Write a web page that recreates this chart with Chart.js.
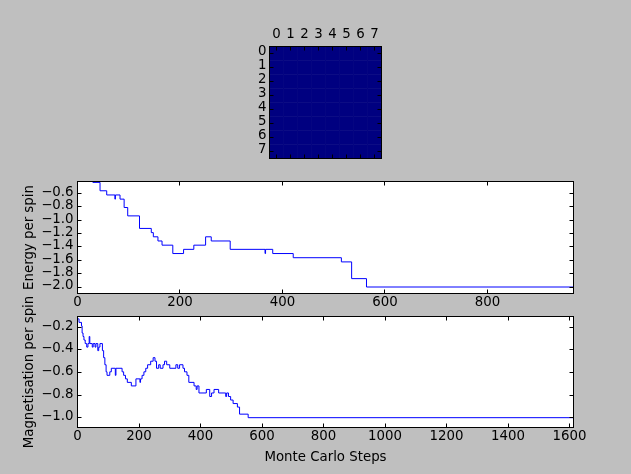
<!DOCTYPE html>
<html><head><meta charset="utf-8">
<script src="https://cdn.jsdelivr.net/npm/chart.js@4.4.0/dist/chart.umd.min.js"></script>
<style>
html,body{margin:0;padding:0;background:#bfbfbf;width:631px;height:474px;overflow:hidden}
canvas{position:absolute;left:0;top:0}
</style></head><body>
<canvas id="cLattice" width="631" height="474"></canvas>
<canvas id="cEnergy" width="631" height="474"></canvas>
<canvas id="cMag" width="631" height="474"></canvas>
<script>
// ---- data ----
const latticeRows = [0, 1, 2, 3, 4, 5, 6, 7];
const latticeCols = ['0', '1', '2', '3', '4', '5', '6', '7'];
const spins = [
  [-1, -1, -1, -1, -1, -1, -1, -1],
  [-1, -1, -1, -1, -1, -1, -1, -1],
  [-1, -1, -1, -1, -1, -1, -1, -1],
  [-1, -1, -1, -1, -1, -1, -1, -1],
  [-1, -1, -1, -1, -1, -1, -1, -1],
  [-1, -1, -1, -1, -1, -1, -1, -1],
  [-1, -1, -1, -1, -1, -1, -1, -1],
  [-1, -1, -1, -1, -1, -1, -1, -1]
];
const latticeTicks = [0, 1, 2, 3, 4, 5, 6, 7];

const energySteps  = [0, 30, 44, 57, 73, 74, 83, 91, 98, 121, 144, 148, 157, 165, 186, 207, 227, 250, 261, 298, 366, 367, 381, 421, 515, 535, 564, 968];
const energyValues = [-0.375, -0.4375, -0.5625, -0.625, -0.6875, -0.625, -0.6875, -0.8125, -0.9375, -1.125, -1.1875, -1.25, -1.3125, -1.375, -1.5, -1.4375, -1.375, -1.25, -1.3125, -1.4375, -1.5, -1.4375, -1.5, -1.5625, -1.625, -1.875, -2.0, -2.0];
const energyXTicks = [0, 200, 400, 600, 800];
const energyYTicks = [-2.0, -1.8, -1.6, -1.4, -1.2, -1.0, -0.8, -0.6];

const magSteps  = [0, 5, 13, 15, 18, 21, 25, 30, 34, 38, 40, 48, 51, 57, 60, 66, 69, 73, 81, 85, 89, 93, 96, 105, 110, 123, 125, 145, 150, 156, 162, 175, 190, 203, 205, 210, 216, 222, 228, 238, 246, 252, 257, 264, 269, 278, 283, 290, 300, 320, 326, 332, 343, 348, 356, 362, 379, 386, 389, 395, 419, 430, 436, 444, 459, 482, 485, 491, 498, 506, 520, 527, 555, 1613];
const magValues = [-0.125, -0.15625, -0.1875, -0.25, -0.28125, -0.3125, -0.34375, -0.375, -0.34375, -0.28125, -0.34375, -0.375, -0.34375, -0.375, -0.34375, -0.40625, -0.375, -0.34375, -0.40625, -0.46875, -0.53125, -0.59375, -0.625, -0.59375, -0.5625, -0.625, -0.5625, -0.59375, -0.625, -0.65625, -0.6875, -0.71875, -0.65625, -0.6875, -0.65625, -0.625, -0.59375, -0.5625, -0.53125, -0.5, -0.46875, -0.5, -0.5625, -0.53125, -0.5625, -0.53125, -0.5, -0.53125, -0.5625, -0.53125, -0.5625, -0.53125, -0.5625, -0.59375, -0.625, -0.6875, -0.71875, -0.75, -0.71875, -0.78125, -0.75, -0.8125, -0.78125, -0.75, -0.78125, -0.8125, -0.78125, -0.8125, -0.84375, -0.875, -0.90625, -0.96875, -1.0, -1.0];
const magXTicks = [0, 200, 400, 600, 800, 1000, 1200, 1400, 1600];
const magYTicks = [-1.0, -0.8, -0.6, -0.4, -0.2];

// ---- style helpers ----
Chart.defaults.font.family = 'DejaVu Sans';
Chart.defaults.font.size = 13.33;
Chart.defaults.color = '#000';
const FONT = {family: 'DejaVu Sans', size: 13.33};
const fmt = v => (v < 0 ? '\u2212' : '') + Math.abs(v).toFixed(1);
const setTicks = arr => scale => { scale.ticks = arr.map(v => ({value: v})); };
const snap = p => Math.floor(p) + 0.5;
const NOGRID = {display: false, drawTicks: false};

const mplFrame = {
  id: 'mplFrame',
  beforeDraw(chart, args, opts) {
    if (!opts.bg) return;
    const {ctx, chartArea: a} = chart;
    ctx.save();
    ctx.fillStyle = opts.bg;
    ctx.fillRect(a.left, a.top, a.right - a.left, a.bottom - a.top);
    ctx.restore();
  },
  afterDatasetsDraw(chart) {
    const {ctx, chartArea: a, scales} = chart;
    const L = 4;
    ctx.save();
    ctx.strokeStyle = '#000';
    ctx.lineWidth = 1;
    ctx.beginPath();
    const xs = scales.x, ys = scales.y;
    xs.ticks.forEach((t, i) => {
      const p = snap(xs.getPixelForTick(i));
      ctx.moveTo(p, a.bottom); ctx.lineTo(p, a.bottom - L);
      ctx.moveTo(p, a.top); ctx.lineTo(p, a.top + L);
    });
    ys.ticks.forEach((t, i) => {
      const p = snap(ys.getPixelForTick(i));
      ctx.moveTo(a.left, p); ctx.lineTo(a.left + L, p);
      ctx.moveTo(a.right, p); ctx.lineTo(a.right - L, p);
    });
    ctx.stroke();
    ctx.strokeRect(a.left, a.top, a.right - a.left, a.bottom - a.top);
    ctx.restore();
  }
};
Chart.register(mplFrame);

const common = {
  responsive: false,
  animation: false,
  devicePixelRatio: 1,
  events: [],
  plugins: {legend: {display: false}, tooltip: {enabled: false}}
};

// ---- lattice (imshow) ----
new Chart(document.getElementById('cLattice'), {
  type: 'bar',
  data: {
    labels: latticeCols,
    datasets: latticeRows.map(r => ({
      data: latticeCols.map(() => [r - 0.5, r + 0.5]),
      backgroundColor: spins[r].map(s => s < 0 ? '#000080' : '#800000'),
      borderWidth: 0,
      barPercentage: 1,
      categoryPercentage: 1,
      grouped: false
    }))
  },
  options: Object.assign({}, common, {
    layout: {padding: {left: 239.5, right: 249.5, top: 21.5, bottom: 315.5}},
    plugins: Object.assign({}, common.plugins, {mplFrame: {bg: null}}),
    scales: {
      x: {
        position: 'top',
        grid: NOGRID, border: {display: false},
        ticks: {padding: 4.3, maxRotation: 0, autoSkip: false},
        afterFit: s => { s.height = 25; }
      },
      y: {
        type: 'linear', reverse: true, min: -0.5, max: 7.5,
        grid: NOGRID, border: {display: false},
        afterBuildTicks: setTicks(latticeTicks),
        ticks: {padding: 3, labelOffset: -2, autoSkip: false, callback: v => String(v)},
        afterFit: s => { s.width = 30; }
      }
    }
  })
});

// ---- energy ----
new Chart(document.getElementById('cEnergy'), {
  type: 'line',
  data: {
    datasets: [{
      data: energySteps.map((x, i) => ({x: x, y: energyValues[i]})),
      stepped: true,
      borderColor: '#0000ff',
      borderWidth: 1,
      pointRadius: 0,
      fill: false,
      clip: 0
    }]
  },
  options: Object.assign({}, common, {
    layout: {padding: {left: 0, right: 57.5, top: 181.5, bottom: 474 - 293.5 - 20}},
    plugins: Object.assign({}, common.plugins, {mplFrame: {bg: '#ffffff'}}),
    scales: {
      x: {
        type: 'linear', min: 0, max: 968,
        grid: NOGRID, border: {display: false},
        afterBuildTicks: setTicks(energyXTicks),
        ticks: {padding: 1, maxRotation: 0, autoSkip: false, callback: v => String(v)},
        afterFit: s => { s.height = 20; }
      },
      y: {
        type: 'linear', min: -2.097, max: -0.424,
        grid: NOGRID, border: {display: false},
        afterBuildTicks: setTicks(energyYTicks),
        ticks: {padding: 4, labelOffset: -1, autoSkip: false, callback: fmt},
        title: {display: true, text: 'Energy per spin', font: FONT, padding: {top: 22, bottom: 0}},
        afterFit: s => { s.width = 77.5; }
      }
    }
  })
});

// ---- magnetisation ----
new Chart(document.getElementById('cMag'), {
  type: 'line',
  data: {
    datasets: [{
      data: magSteps.map((x, i) => ({x: x, y: magValues[i]})),
      stepped: true,
      borderColor: '#0000ff',
      borderWidth: 1,
      pointRadius: 0,
      fill: false,
      clip: 0
    }]
  },
  options: Object.assign({}, common, {
    layout: {padding: {left: 0, right: 57.5, top: 316.5, bottom: 474 - 427.5 - 40}},
    plugins: Object.assign({}, common.plugins, {mplFrame: {bg: '#ffffff'}}),
    scales: {
      x: {
        type: 'linear', min: 0, max: 1613,
        grid: NOGRID, border: {display: false},
        afterBuildTicks: setTicks(magXTicks),
        ticks: {padding: 1, maxRotation: 0, autoSkip: false, callback: v => String(v)},
        title: {display: true, text: 'Monte Carlo Steps', font: FONT, padding: {top: 0, bottom: 1.5}},
        afterFit: s => { s.height = 40; }
      },
      y: {
        type: 'linear', min: -1.087, max: -0.104,
        grid: NOGRID, border: {display: false},
        afterBuildTicks: setTicks(magYTicks),
        ticks: {padding: 4, labelOffset: -1, autoSkip: false, callback: fmt},
        title: {display: true, text: 'Magnetisation per spin', font: FONT, padding: {top: 22, bottom: 0}},
        afterFit: s => { s.width = 77.5; }
      }
    }
  })
});
</script>
</body></html>
